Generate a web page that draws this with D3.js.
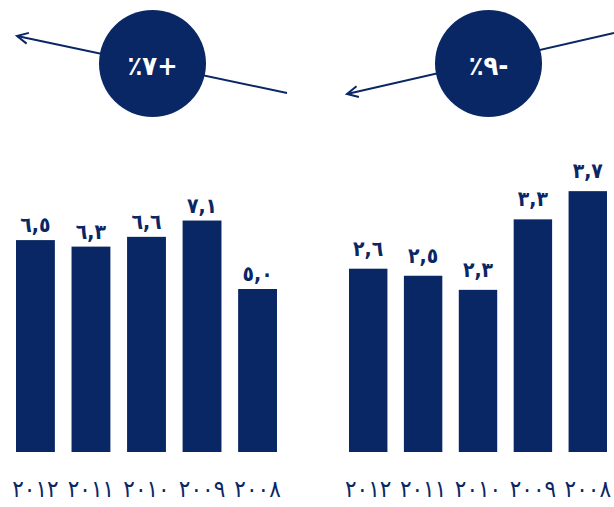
<!DOCTYPE html>
<html>
<head>
<meta charset="utf-8">
<script src="https://cdn.jsdelivr.net/npm/d3@7"></script>
<style>
  html, body { margin: 0; padding: 0; background: #fff; }
  svg { display: block; }
  .ltr { direction: ltr; unicode-bidi: bidi-override; }
</style>
</head>
<body>
<div id="chart"></div>
<script>
"use strict"
var width = 614,
	height = 507,
	navy = "#0a2765";

// years 2008..2012, drawn right to left
var years = ["٢٠٠٨", "٢٠٠٩", "٢٠١٠", "٢٠١١", "٢٠١٢"];
var leftValues = [5.0, 7.1, 6.6, 6.3, 6.5];
var rightValues = [3.7, 3.3, 2.3, 2.5, 2.6];
var changeLabels = ["٪٧+", "٪٩-"];

var arabicDigits = "٠١٢٣٤٥٦٧٨٩";
function toArabic(v) {
	return d3.format(".1f")(v).replace(/[0-9]/g, function (d) { return arabicDigits[+d]; }).replace(".", ",");
}

var svg = d3.select("#chart").append("svg")
	.attr("width", width)
	.attr("height", height);

var defs = svg.append("defs");
defs.append("marker")
	.attr("id", "head")
	.attr("viewBox", "0 0 14 14")
	.attr("refX", 12)
	.attr("refY", 7)
	.attr("markerWidth", 14)
	.attr("markerHeight", 14)
	.attr("markerUnits", "userSpaceOnUse")
	.attr("orient", "auto")
	.append("path")
	.attr("d", "M1,1.5 L12,7 L1,12.5")
	.attr("fill", "none")
	.attr("stroke", navy)
	.attr("stroke-width", 2);

var baseY = 452;
var font = "DejaVu Sans Condensed, DejaVu Sans";

function drawGroup(values, x0, x1, pxPerUnit, gap) {
	var x = d3.scaleBand()
		.domain(years.slice().reverse())
		.range([x0, x1])
		.paddingInner(0.3)
		.paddingOuter(0);
	var y = d3.scaleLinear()
		.domain([0, 4])
		.range([baseY, baseY - 4 * pxPerUnit]);

	var g = svg.append("g");
	g.selectAll("rect")
		.data(values)
		.join("rect")
		.attr("x", function (d, i) { return x(years[i]); })
		.attr("y", function (d) { return y(d); })
		.attr("width", x.bandwidth())
		.attr("height", function (d) { return y(0) - y(d); })
		.attr("fill", navy);

	g.selectAll("text.val")
		.data(values)
		.join("text")
		.attr("class", "val ltr")
		.attr("x", function (d, i) { return x(years[i]) + x.bandwidth() / 2; })
		.attr("y", function (d) { return y(d) - gap; })
		.attr("text-anchor", "middle")
		.attr("font-family", font)
		.attr("font-weight", "bold")
		.attr("font-size", 21)
		.attr("letter-spacing", -1)
		.attr("fill", navy)
		.text(toArabic);

	var axis = d3.axisBottom(x).tickSize(0).tickPadding(0);
	var ax = g.append("g")
		.attr("transform", "translate(0," + 497 + ")")
		.call(axis);
	ax.select(".domain").remove();
	ax.selectAll("text")
		.attr("dy", 0)
		.attr("class", "ltr")
		.attr("font-family", font)
		.attr("font-size", 24)
		.attr("letter-spacing", -1.5)
		.attr("fill", navy);
}

drawGroup(leftValues, 16, 277, 32.6, 8);
drawGroup(rightValues, 349, 607, 70.5, 13);

// trend arrows with badges
var badges = [
	{ cx: 152.5, line: [287, 93, 17, 36] },
	{ cx: 488.5, line: [614, 33, 347, 94] }
];
badges.forEach(function (b, i) {
	svg.append("line")
		.attr("x1", b.line[0]).attr("y1", b.line[1])
		.attr("x2", b.line[2]).attr("y2", b.line[3])
		.attr("stroke", navy)
		.attr("stroke-width", 2)
		.attr("marker-end", "url(#head)");
	svg.append("circle")
		.attr("cx", b.cx)
		.attr("cy", 63.5)
		.attr("r", 53.5)
		.attr("fill", navy);
	svg.append("text")
		.attr("class", "ltr")
		.attr("x", b.cx)
		.attr("y", 75)
		.attr("text-anchor", "middle")
		.attr("font-family", font)
		.attr("font-weight", "bold")
		.attr("font-size", 27)
		.attr("fill", "#fff")
		.text(changeLabels[i]);
});
</script>
</body>
</html>
